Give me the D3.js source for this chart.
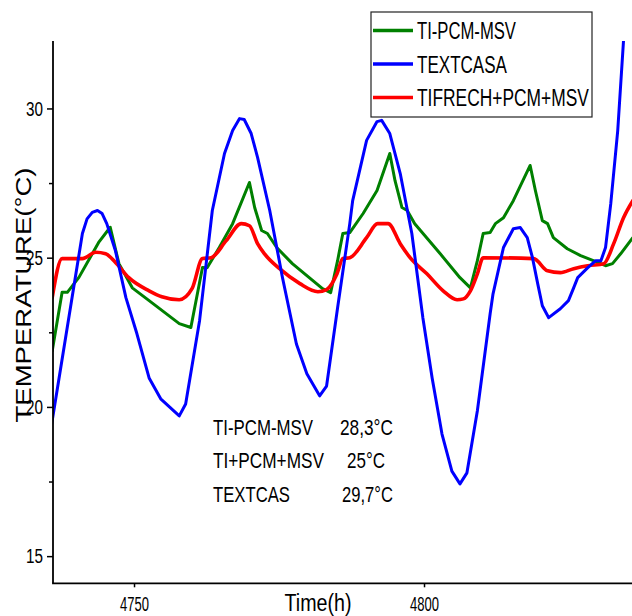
<!DOCTYPE html>
<html>
<head>
<meta charset="utf-8">
<script src="https://cdn.jsdelivr.net/npm/d3@7"></script>
<style>
  html, body { margin: 0; padding: 0; background: #fff; }
  svg { display: block; font-family: "Liberation Sans", Arial, sans-serif; }
</style>
</head>
<body>
<svg id="chart" width="632" height="616"></svg>
<script>
// ---------- DATA ----------
const seriesNames = ["TI-PCM-MSV", "TEXTCASA", "TIFRECH+PCM+MSV"];
const seriesColors = ["#008000", "#0000ff", "#ff0000"];

const greenTime = [4735.9, 4737.6, 4738.5, 4740.5, 4743.9, 4745.9, 4747.4, 4749.7, 4752.6, 4757.8,
  4759.8, 4761.8, 4762.6, 4764.7, 4767.0, 4769.9, 4770.8, 4772.0, 4773.0, 4774.6,
  4777.3, 4782.5, 4783.9, 4785.1, 4786.0, 4787.2, 4789.5, 4791.9, 4794.1, 4795.0,
  4796.2, 4797.1, 4798.4, 4802.8, 4806.2, 4808.0, 4809.2, 4810.2, 4811.4, 4812.3,
  4813.7, 4815.4, 4818.3, 4819.2, 4820.4, 4821.3, 4822.3, 4824.7, 4827.0, 4829.2,
  4831.3, 4832.5, 4833.9, 4836.0];
const greenTemp = [21.88, 23.84, 23.84, 24.34, 25.51, 26.02, 24.80, 23.99, 23.56, 22.79,
  22.66, 24.67, 24.66, 25.34, 26.14, 27.52, 26.68, 25.91, 25.81, 25.34,
  24.80, 23.96, 23.83, 24.90, 25.81, 25.84, 26.48, 27.25, 28.49, 27.58,
  26.68, 26.58, 26.14, 25.13, 24.33, 23.99, 24.90, 25.81, 25.84, 26.14,
  26.34, 26.91, 28.09, 27.25, 26.24, 26.14, 25.67, 25.30, 25.07, 24.90,
  24.73, 24.80, 25.13, 25.67];

const blueTime = [4735.8, 4741.1, 4741.9, 4742.8, 4743.7, 4744.5, 4745.3, 4746.8, 4748.6, 4750.5,
  4752.6, 4754.6, 4757.8, 4758.9, 4761.3, 4763.5, 4765.6, 4767.0, 4768.2, 4769.0,
  4770.2, 4771.3, 4773.4, 4775.6, 4778.0, 4779.8, 4782.0, 4783.2, 4785.1, 4787.2,
  4787.7, 4790.1, 4791.9, 4792.7, 4794.1, 4795.9, 4797.9, 4799.8, 4801.4, 4803.1,
  4804.8, 4806.2, 4807.4, 4809.2, 4811.4, 4811.9, 4813.7, 4815.4, 4816.6, 4817.8,
  4818.7, 4819.6, 4820.4, 4821.5, 4823.5, 4824.9, 4825.8, 4826.5, 4828.2, 4829.6,
  4830.5, 4831.3, 4832.2, 4833.4, 4834.4, 4835.5];
const blueTemp = [19.43, 25.81, 26.30, 26.52, 26.58, 26.48, 26.14, 25.23, 23.66, 22.45,
  20.97, 20.27, 19.70, 20.10, 22.89, 26.58, 28.49, 29.26, 29.66, 29.63,
  29.16, 28.36, 26.58, 24.33, 22.11, 21.11, 20.37, 20.70, 23.32, 26.14,
  26.91, 28.93, 29.56, 29.60, 29.16, 27.82, 25.81, 22.99, 20.97, 19.09,
  17.85, 17.42, 17.79, 19.87, 23.12, 23.79, 25.34, 25.97, 26.01, 25.67,
  25.00, 24.13, 23.39, 22.99, 23.29, 23.56, 23.99, 24.33, 24.66, 24.90,
  24.90, 25.34, 26.81, 29.26, 32.28, 33.90];

const redTime = [4735.9, 4737.6, 4741.1, 4743.4, 4745.1, 4746.8, 4749.1, 4752.6, 4754.8, 4757.8,
  4760.0, 4761.8, 4763.3, 4765.9, 4768.5, 4769.9, 4771.3, 4772.5, 4775.1, 4778.6,
  4781.7, 4783.2, 4785.0, 4786.0, 4787.2, 4790.1, 4792.0, 4793.8, 4795.9, 4797.6,
  4800.5, 4803.3, 4805.7, 4806.8, 4808.0, 4809.2, 4810.2, 4818.9, 4821.3, 4823.5,
  4825.8, 4828.2, 4831.0, 4832.7, 4834.4, 4836.0];
const redTemp = [23.67, 24.97, 24.97, 25.18, 25.13, 24.84, 24.33, 23.89, 23.69, 23.59,
  23.96, 24.97, 25.00, 25.57, 26.14, 26.07, 25.47, 25.13, 24.63, 24.13,
  23.86, 23.93, 24.46, 24.97, 25.00, 25.67, 26.14, 26.14, 25.47, 25.00,
  24.46, 23.89, 23.59, 23.62, 23.89, 24.46, 25.00, 24.97, 24.56, 24.50,
  24.63, 24.73, 24.80, 25.47, 26.34, 26.91];

const yMajorTicks = [15, 20, 25, 30];
const yMinorTicks = [17.5, 22.5, 27.5];
const xTicks = [4750, 4800];
const xDomain = [4736.03, 4835.86];
const yDomain = [14.09, 32.26];

const noteLabels = ["TI-PCM-MSV", "TI+PCM+MSV", "TEXTCAS"];
const noteValues = ["28,3°C", "25°C", "29,7°C"];

const xTitle = "Time(h)";
const yTitle = "TEMPERATURE(°C)";

// ---------- HELPERS ----------
// compress a text horizontally to a target width (the reference font is condensed)
function squeeze(sel, width) {
  sel.each(function () {
    const w = this.getComputedTextLength();
    if (!w) return;
    const s = width / w;
    const xv = +(this.getAttribute("x") || 0);
    this.setAttribute("x", xv / s);
    const tr = this.getAttribute("transform") || "";
    this.setAttribute("transform", (tr + ` scale(${s},1)`).trim());
  });
}

// ---------- LAYOUT ----------
const plot = { left: 53, right: 632, top: 41, bottom: 583.3 };
const svg = d3.select("#chart");

const x = d3.scaleLinear().domain(xDomain).range([plot.left, plot.right]);
const y = d3.scaleLinear().domain(yDomain).range([plot.bottom, plot.top]);

svg.append("defs").append("clipPath").attr("id", "clip")
  .append("rect")
  .attr("x", plot.left).attr("y", plot.top)
  .attr("width", plot.right - plot.left + 2)
  .attr("height", plot.bottom - plot.top);

// ---------- LINES ----------
const series = [
  { t: greenTime, v: greenTemp, color: seriesColors[0], w: 3, curve: d3.curveLinear },
  { t: blueTime, v: blueTemp, color: seriesColors[1], w: 3, curve: d3.curveLinear },
  { t: redTime, v: redTemp, color: seriesColors[2], w: 3.6, curve: d3.curveMonotoneX }
];

const gLines = svg.append("g").attr("clip-path", "url(#clip)");
[0, 2, 1].forEach(i => {
  const s = series[i];
  const pts = d3.range(Math.min(s.t.length, s.v.length)).map(k => [s.t[k], s.v[k]]);
  const line = d3.line().x(d => x(d[0])).y(d => y(d[1])).curve(s.curve);
  gLines.append("path")
    .datum(pts)
    .attr("d", line)
    .attr("fill", "none")
    .attr("stroke", s.color)
    .attr("stroke-width", s.w)
    .attr("stroke-linejoin", "round")
    .attr("stroke-linecap", "round");
});

// ---------- AXES ----------
const yAxis = d3.axisLeft(y).tickValues(yMajorTicks).tickSize(6).tickPadding(4)
  .tickFormat(d3.format("d"));
const gy = svg.append("g").attr("transform", `translate(${plot.left},0)`).call(yAxis);
gy.select(".domain").remove();
gy.selectAll(".tick line").attr("stroke", "#000").attr("stroke-width", 1.5);
gy.selectAll(".tick text")
  .attr("font-size", 21)
  .attr("fill", "#000")
  .attr("font-family", "Liberation Sans, Arial, sans-serif")
  .call(squeeze, 17);

const yMinor = d3.axisLeft(y).tickValues(yMinorTicks).tickSize(4).tickFormat("");
const gym = svg.append("g").attr("transform", `translate(${plot.left},0)`).call(yMinor);
gym.select(".domain").remove();
gym.selectAll(".tick line").attr("stroke", "#000").attr("stroke-width", 1.5);

const xAxis = d3.axisBottom(x).tickValues(xTicks).tickSize(4).tickPadding(10)
  .tickFormat(d3.format("d"));
const gx = svg.append("g").attr("transform", `translate(0,${plot.bottom})`).call(xAxis);
gx.select(".domain").remove();
gx.selectAll(".tick line").attr("stroke", "#000").attr("stroke-width", 1.5);
gx.selectAll(".tick text")
  .attr("font-size", 19.5)
  .attr("fill", "#000")
  .attr("font-family", "Liberation Sans, Arial, sans-serif")
  .call(squeeze, 29);

// axis lines
svg.append("line")
  .attr("x1", plot.left).attr("x2", plot.left)
  .attr("y1", plot.top).attr("y2", plot.bottom)
  .attr("stroke", "#000").attr("stroke-width", 1.8);
svg.append("line")
  .attr("x1", plot.left - 0.9).attr("x2", 632)
  .attr("y1", plot.bottom).attr("y2", plot.bottom)
  .attr("stroke", "#000").attr("stroke-width", 1.8);

// ---------- TITLES ----------
svg.append("text")
  .attr("x", 318).attr("y", 610.7)
  .attr("text-anchor", "middle")
  .attr("font-size", 23.5)
  .attr("fill", "#000")
  .text(xTitle)
  .call(squeeze, 67);

svg.append("text")
  .attr("transform", "translate(31,295) rotate(-90)")
  .attr("text-anchor", "middle")
  .attr("font-size", 22)
  .attr("fill", "#000")
  .text(yTitle)
  .call(squeeze, 255);

// ---------- LEGEND ----------
const legend = svg.append("g");
legend.append("rect")
  .attr("x", 371).attr("y", 12).attr("width", 221).attr("height", 105)
  .attr("fill", "#fff").attr("stroke", "#222").attr("stroke-width", 1.2);
const legendTextLen = [99, 90, 172];
seriesNames.forEach((name, i) => {
  const cy = 30.5 + i * 33.5;
  legend.append("line")
    .attr("x1", 373).attr("x2", 413)
    .attr("y1", cy).attr("y2", cy)
    .attr("stroke", seriesColors[i]).attr("stroke-width", 3.5);
  legend.append("text")
    .attr("x", 417).attr("y", cy + 8.7)
    .attr("font-size", 23.5)
    .attr("fill", "#000")
    .text(name)
    .call(squeeze, legendTextLen[i]);
});

// ---------- ANNOTATION ----------
const noteLabelLen = [100, 111, 77];
const noteValueX = [340, 347, 342];
const noteValueLen = [53, 38, 51];
noteLabels.forEach((lab, i) => {
  const by = 435 + i * 33.5;
  svg.append("text")
    .attr("x", 213).attr("y", by)
    .attr("font-size", 22)
    .attr("fill", "#000")
    .text(lab)
    .call(squeeze, noteLabelLen[i]);
  svg.append("text")
    .attr("x", noteValueX[i]).attr("y", by)
    .attr("font-size", 22)
    .attr("fill", "#000")
    .text(noteValues[i])
    .call(squeeze, noteValueLen[i]);
});
</script>
</body>
</html>
